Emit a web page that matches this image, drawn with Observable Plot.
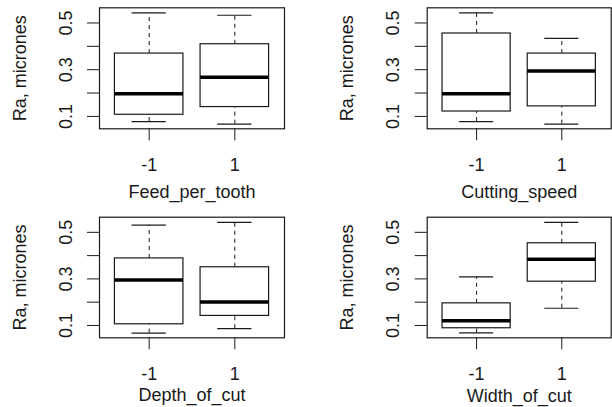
<!DOCTYPE html>
<html><head><meta charset="utf-8">
<script src="https://cdn.jsdelivr.net/npm/d3@7"></script>
<script src="https://cdn.jsdelivr.net/npm/@observablehq/plot@0.6"></script>
<style>
body{margin:0;background:#fff;}
#chart{position:relative;width:612px;height:407px;overflow:hidden;background:#fff;}
#chart svg{position:absolute;overflow:visible;}
</style></head><body><div id="chart"></div>
<script>
// Data (Ra, micrones by factor level)
const factors = ["Feed_per_tooth", "Cutting_speed", "Depth_of_cut", "Width_of_cut"];
const levels = ["-1", "1"];
const whiskerLow  = [[0.078, 0.067], [0.078, 0.067], [0.067, 0.086], [0.068, 0.174]];
const lowerHinge  = [[0.107, 0.140], [0.121, 0.143], [0.105, 0.141], [0.088, 0.288]];
const medians     = [[0.197, 0.268], [0.197, 0.294], [0.295, 0.201], [0.120, 0.384]];
const upperHinge  = [[0.369, 0.409], [0.455, 0.369], [0.388, 0.350], [0.195, 0.453]];
const whiskerHigh = [[0.543, 0.533], [0.543, 0.434], [0.531, 0.543], [0.309, 0.543]];
const yTicks = [0.1, 0.2, 0.3, 0.4, 0.5];
const yTickLabels = ["0.1", "", "0.3", "", "0.5"];
const yLabel = "Ra, micrones";

const layout = [
  {left: 0,   top: 0,   width: 306, height: 204, ml: 99,    mr: 22,  mt: 7.3,  mb: 75.7, xlo: 69.5, ylo: 86},
  {left: 306, top: 0,   width: 306, height: 204, ml: 120.7, mr: 1.3, mt: 7.3,  mb: 75.7, xlo: 69.5, ylo: 87},
  {left: 0,   top: 204, width: 306, height: 203, ml: 99,    mr: 22,  mt: 12.7, mb: 69.7, xlo: 63.5, ylo: 86},
  {left: 306, top: 204, width: 306, height: 203, ml: 120.7, mr: 1.3, mt: 12.7, mb: 69.7, xlo: 64,   ylo: 87}
];

const ink = "#1a1a1a";
const font = "'Liberation Sans', Arial, sans-serif";
const container = document.getElementById("chart");

factors.forEach((factor, p) => {
  const L = layout[p];
  const rows = levels.map((lev, j) => ({
    level: lev, pos: j + 1,
    lo: whiskerLow[p][j], q1: lowerHinge[p][j], med: medians[p][j],
    q3: upperHinge[p][j], hi: whiskerHigh[p][j]
  }));
  const chart = Plot.plot({
    width: L.width, height: L.height,
    marginLeft: L.ml, marginRight: L.mr, marginTop: L.mt, marginBottom: L.mb,
    style: {fontFamily: font, fontSize: "18px", color: ink, background: "transparent"},
    x: {domain: [0.42, 2.58]},
    y: {domain: [0.047, 0.565]},
    marks: [
      Plot.frame({stroke: ink, strokeWidth: 1.2}),
      Plot.ruleX(rows, {x: "pos", y1: "q3", y2: "hi", stroke: ink, strokeDasharray: "4,4"}),
      Plot.ruleX(rows, {x: "pos", y1: "lo", y2: "q1", stroke: ink, strokeDasharray: "4,4"}),
      Plot.ruleY(rows, {y: "hi", x1: d => d.pos - 0.2, x2: d => d.pos + 0.2, stroke: ink, strokeWidth: 1.2}),
      Plot.ruleY(rows, {y: "lo", x1: d => d.pos - 0.2, x2: d => d.pos + 0.2, stroke: ink, strokeWidth: 1.2}),
      Plot.rect(rows, {x1: d => d.pos - 0.4, x2: d => d.pos + 0.4, y1: "q1", y2: "q3", fill: "white", stroke: ink, strokeWidth: 1.2}),
      Plot.ruleY(rows, {y: "med", x1: d => d.pos - 0.4, x2: d => d.pos + 0.4, stroke: "#000", strokeWidth: 3.5}),
      Plot.axisY(yTicks, {
        anchor: "left", tickSize: 12, tickPadding: 16, tickRotate: -90,
        tickFormat: (d, i) => yTickLabels[i], fontSize: 18, stroke: ink,
        label: yLabel, labelAnchor: "center", labelOffset: L.ylo, labelArrow: "none"
      }),
      Plot.axisX(rows.map(d => d.pos), {
        anchor: "bottom", tickSize: 12, tickPadding: 17.5,
        tickFormat: (d, i) => levels[i], fontSize: 18, stroke: ink,
        label: factor, labelAnchor: "center", labelOffset: L.xlo, labelArrow: "none"
      })
    ]
  });
  chart.style.left = L.left + "px";
  chart.style.top = L.top + "px";
  container.appendChild(chart);
});
</script>
</body></html>
